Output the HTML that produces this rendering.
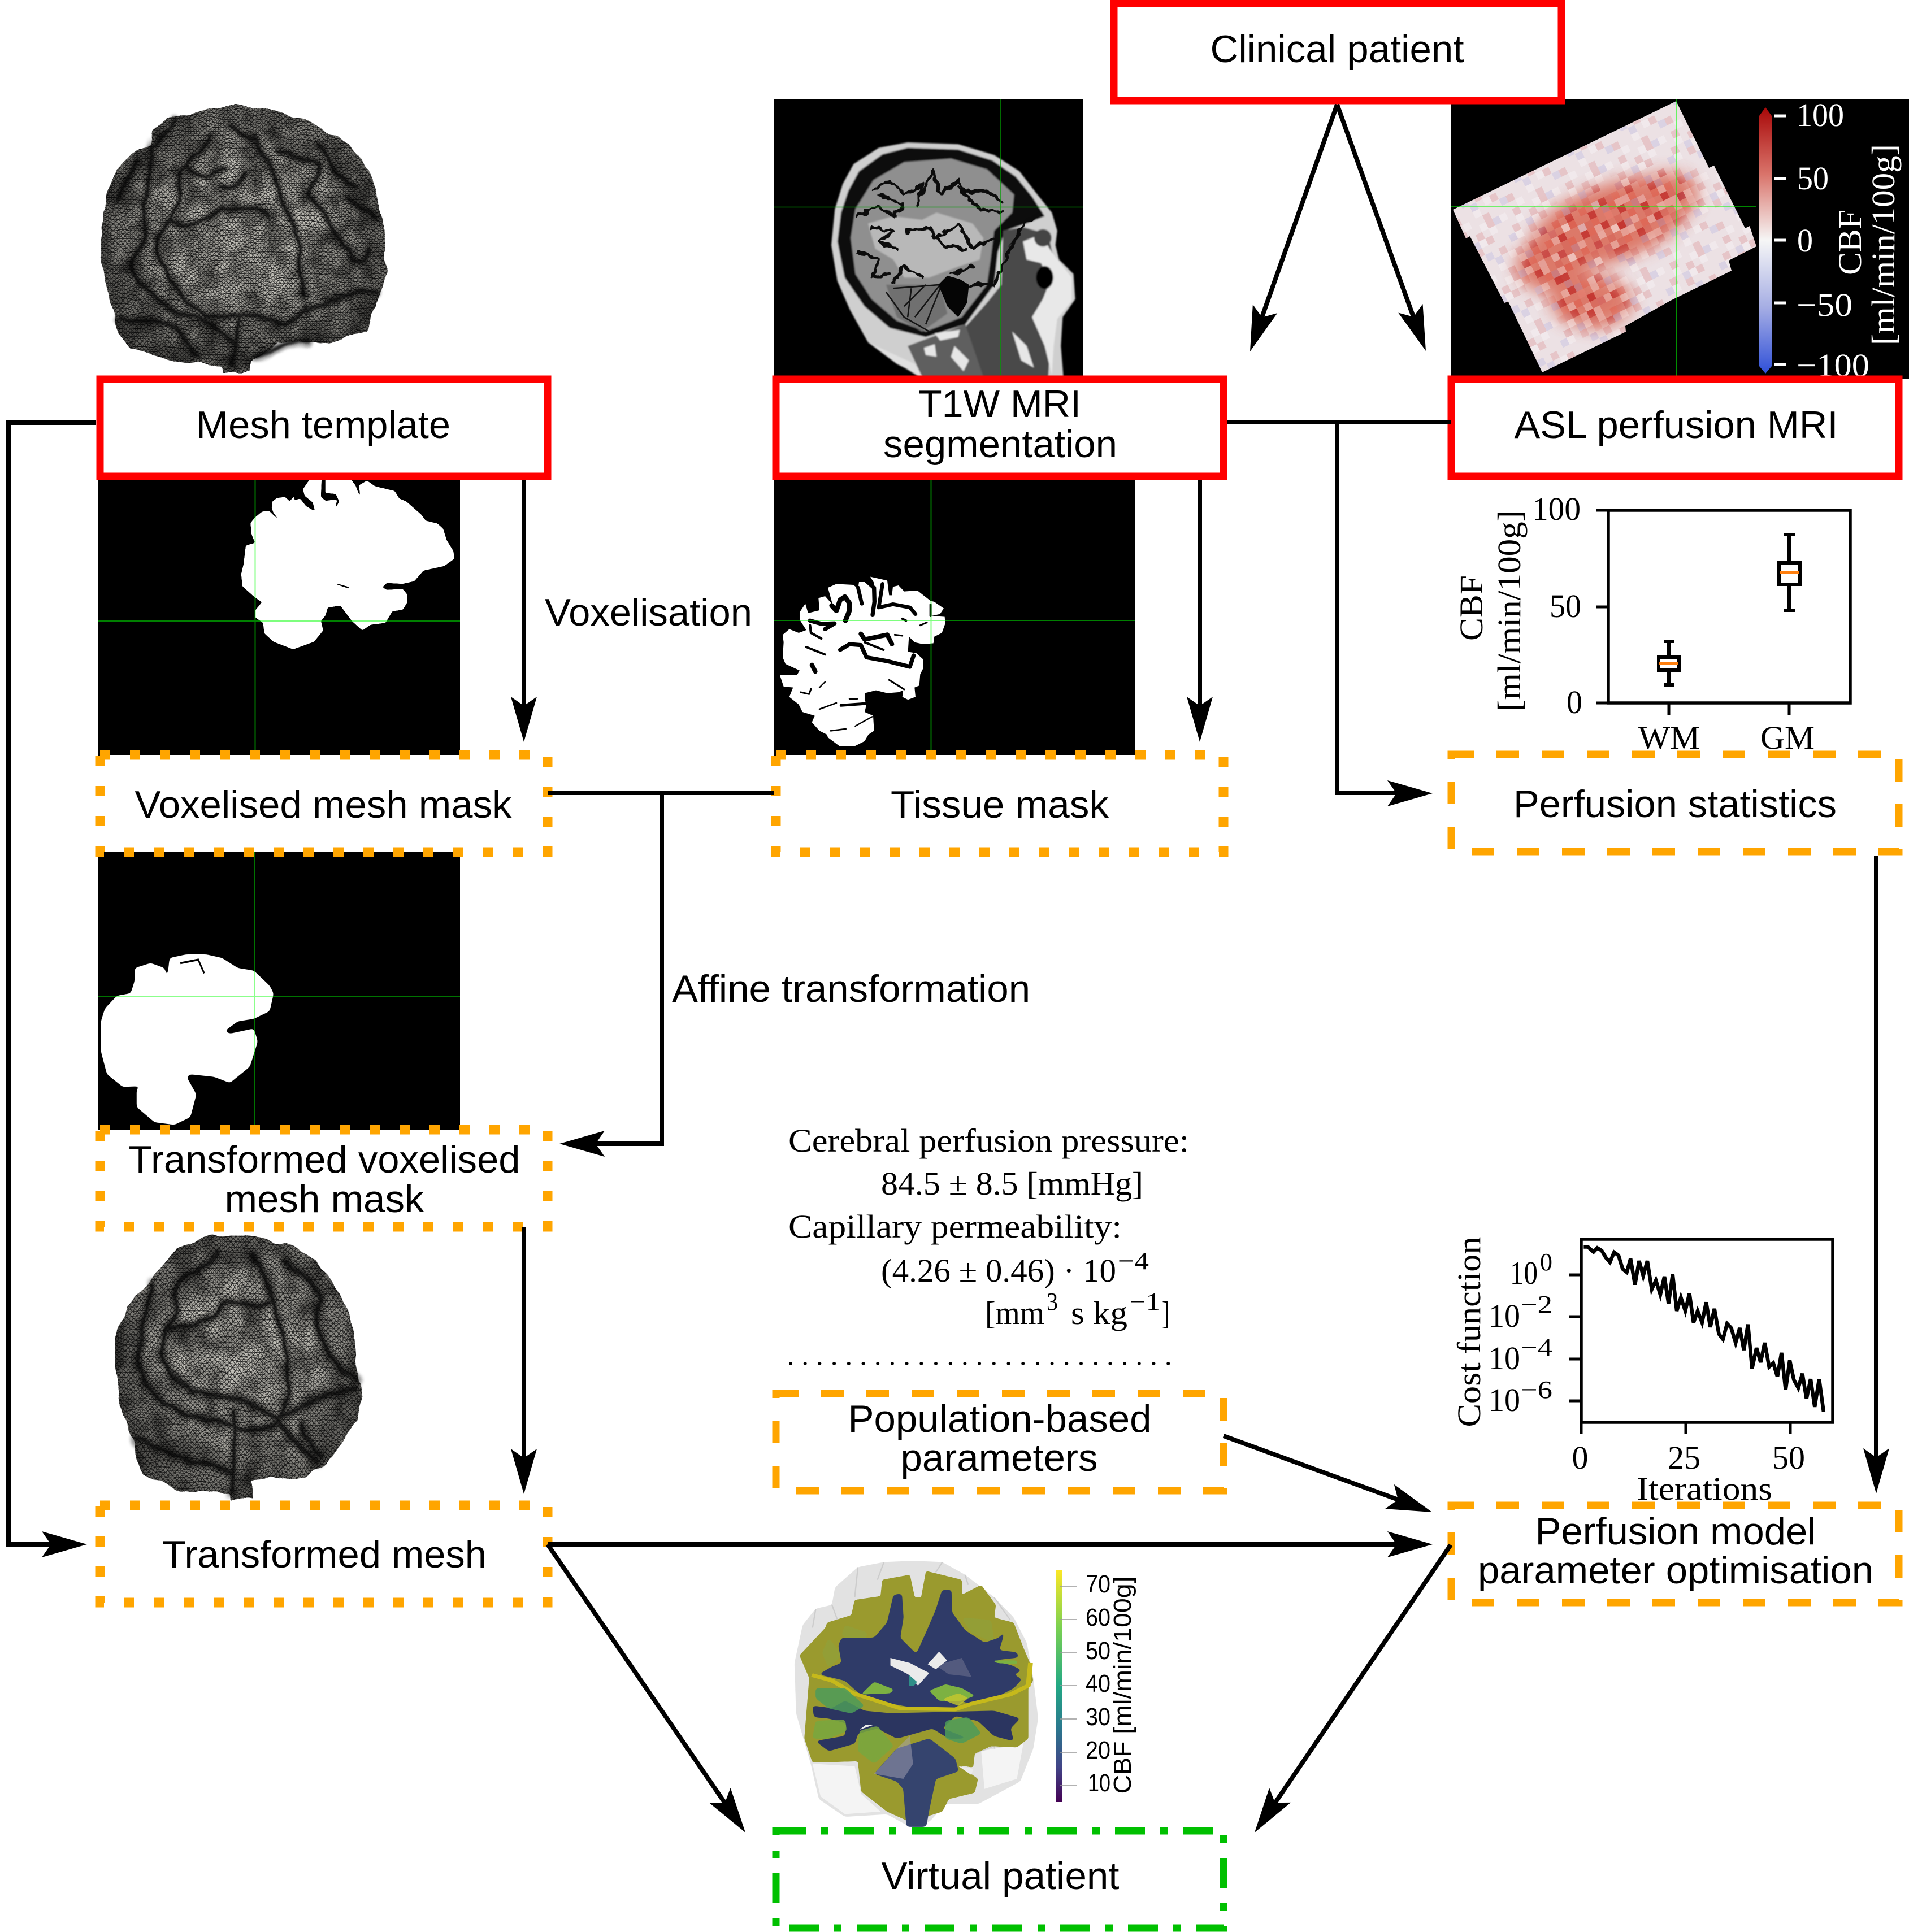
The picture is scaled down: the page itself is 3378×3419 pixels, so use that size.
<!DOCTYPE html>
<html><head><meta charset="utf-8"><style>
html,body{margin:0;padding:0;background:#fff}
svg{display:block}
.s{font-family:"Liberation Sans",sans-serif;font-size:68px;fill:#000;text-anchor:middle}
.c{font-family:"Liberation Serif",serif;font-size:58px;fill:#000}
.m{text-anchor:middle}
.w{fill:#fff}
.k{fill:none;stroke:#000;stroke-width:8}
</style></head><body>
<svg xmlns="http://www.w3.org/2000/svg" width="3378" height="3419" viewBox="0 0 3378 3419">
<defs>
<path id="a" d="M0,0L-80,-23L-64,0L-80,23Z" fill="#000"/>
<pattern id="mesh" patternUnits="userSpaceOnUse" width="12" height="10.4"><rect width="12" height="10.4" fill="#c6c4bc"/><path d="M0 0H12M0 5.2H12M0 0L6 5.2L12 0M0 10.4L6 5.2L12 10.4" stroke="#1c1c1c" stroke-width="1.2" fill="none"/></pattern>
<radialGradient id="edge" cx=".5" cy=".47" r=".56"><stop offset=".45" stop-color="#000" stop-opacity="0"/><stop offset="1" stop-color="#000" stop-opacity=".5"/></radialGradient>
<filter id="b2"><feGaussianBlur stdDeviation="2"/></filter>
<filter id="b4"><feGaussianBlur stdDeviation="4"/></filter>
<filter id="b20"><feGaussianBlur stdDeviation="14"/></filter>
<filter id="brain" x="-6%" y="-6%" width="112%" height="112%" color-interpolation-filters="sRGB">
<feTurbulence type="fractalNoise" baseFrequency=".018" numOctaves="2" seed="4" result="n"/>
<feDisplacementMap in="SourceGraphic" in2="n" scale="20" xChannelSelector="R" yChannelSelector="G" result="d"/>
<feColorMatrix in="n" type="matrix" values="0 0 0 0 0 0 0 0 0 0 0 0 0 0 0 1.2 0 0 0 -.4" result="sh"/>
<feComposite in="sh" in2="d" operator="in" result="s2"/>
<feMerge><feMergeNode in="d"/><feMergeNode in="s2"/></feMerge>
</filter>
<filter id="wig" x="-5%" y="-5%" width="110%" height="110%" color-interpolation-filters="sRGB">
<feTurbulence type="fractalNoise" baseFrequency=".045" numOctaves="2" seed="9" result="n"/>
<feDisplacementMap in="SourceGraphic" in2="n" scale="22" xChannelSelector="R" yChannelSelector="G"/>
</filter>
<filter id="goo" x="-5%" y="-5%" width="110%" height="110%" color-interpolation-filters="sRGB">
<feGaussianBlur stdDeviation="6"/><feColorMatrix type="matrix" values="1 0 0 0 0 0 1 0 0 0 0 0 1 0 0 0 0 0 12 -5"/>
</filter>
<filter id="goo2" x="-5%" y="-5%" width="110%" height="110%" color-interpolation-filters="sRGB">
<feGaussianBlur stdDeviation="4"/><feColorMatrix type="matrix" values="1 0 0 0 0 0 1 0 0 0 0 0 1 0 0 0 0 0 14 -6"/>
</filter>
<pattern id="cells" patternUnits="userSpaceOnUse" width="104" height="104" patternTransform="rotate(-26 2571 371)">
<path fill="#fff" fill-opacity=".28" d="M0 0h13v13h-13zM39 0h13v13h-13zM13 13h13v13h-13zM65 13h13v13h-13zM91 26h13v13h-13zM52 39h13v13h-13zM26 65h13v13h-13zM0 78h13v13h-13zM78 91h13v13h-13z"/>
<path fill="#c21f1f" fill-opacity=".14" d="M13 0h13v13h-13zM65 0h13v13h-13zM91 13h13v13h-13zM0 26h13v13h-13zM52 26h13v13h-13zM78 39h13v13h-13zM13 52h13v13h-13zM39 65h13v13h-13zM65 78h13v13h-13zM13 91h13v13h-13z"/>
<path fill="#7a86e0" fill-opacity=".16" d="M26 0h13v13h-13zM78 26h13v13h-13zM0 65h13v13h-13zM52 78h13v13h-13zM91 52h13v13h-13zM39 39h13v13h-13z"/>
</pattern>
<pattern id="hotc" patternUnits="userSpaceOnUse" width="117" height="117" patternTransform="rotate(-26 2571 371)">
<path fill="#b81414" fill-opacity=".6" d="M0 0h13v13h-13zM52 0h13v13h-13zM91 13h13v13h-13zM26 26h13v13h-13zM65 39h13v13h-13zM104 39h13v13h-13zM13 52h13v13h-13zM78 65h13v13h-13zM39 78h13v13h-13zM0 91h13v13h-13zM104 91h13v13h-13zM65 104h13v13h-13z"/>
<path fill="#e05a48" fill-opacity=".5" d="M26 0h13v13h-13zM78 0h13v13h-13zM13 13h13v13h-13zM52 13h13v13h-13zM0 26h13v13h-13zM91 26h13v13h-13zM39 39h13v13h-13zM78 39h13v13h-13zM52 65h13v13h-13zM13 78h13v13h-13zM91 78h13v13h-13zM39 104h13v13h-13z"/>
<path fill="#fff" fill-opacity=".35" d="M39 13h13v13h-13zM104 0h13v13h-13zM65 26h13v13h-13zM0 52h13v13h-13zM91 52h13v13h-13zM26 65h13v13h-13zM65 91h13v13h-13z"/>
</pattern>
<mask id="hot" maskUnits="userSpaceOnUse" x="2560" y="170" width="560" height="500"><g filter="url(#b20)" fill="#fff">
<ellipse cx="2850" cy="395" rx="140" ry="58" transform="rotate(-20 2850 395)"/>
<ellipse cx="2950" cy="345" rx="48" ry="34"/>
<ellipse cx="2817" cy="534" rx="65" ry="40"/>
<ellipse cx="2745" cy="470" rx="55" ry="42"/>
</g></mask>
<clipPath id="asl"><path d="M2571 371L2966 179L3024 297L3033 293L3088 404L3096 400L3108 436L3059 461L3064 479L2956 532L2876 577L2877 587L2729 659L2669 534L2662 536L2601 418L2594 422Z"/></clipPath>
<linearGradient id="cool" x1="0" y1="0" x2="0" y2="1"><stop offset="0" stop-color="#a80808"/><stop offset=".25" stop-color="#d9736a"/><stop offset=".5" stop-color="#f6f6f6"/><stop offset=".75" stop-color="#a6aee4"/><stop offset="1" stop-color="#3050d8"/></linearGradient>
<linearGradient id="vir" x1="0" y1="0" x2="0" y2="1"><stop offset="0" stop-color="#fde725"/><stop offset=".25" stop-color="#7ad151"/><stop offset=".5" stop-color="#22a884"/><stop offset=".68" stop-color="#2a788e"/><stop offset=".85" stop-color="#414487"/><stop offset="1" stop-color="#440154"/></linearGradient>
<g id="s1" fill="none" stroke-linecap="round">
<path d="M530 330C510 370 470 385 455 420C445 450 470 470 430 520C420 545 400 560 395 600C410 650 440 690 470 730L520 768L640 760L720 785L770 745"/>
<path d="M640 330C660 380 690 400 700 450C720 520 750 560 755 600C745 640 765 680 770 710"/>
<path d="M430 530C470 560 520 540 560 500C590 520 640 480 680 520"/>
<path d="M700 370C740 370 790 390 805 400C800 450 760 450 790 480"/>
<path d="M805 345C830 390 860 440 900 450"/>
<path d="M790 480C820 530 850 570 880 600C890 640 920 650 930 600"/>
<path d="M380 350C390 400 370 430 365 480C350 520 380 560 360 590C330 620 330 660 350 680"/>
<path d="M300 480C320 440 330 420 350 390"/>
<path d="M345 670C400 730 430 750 500 770C550 790 570 800 590 830"/>
<path d="M770 755C830 720 900 700 950 705"/>
<path d="M600 770L590 880M650 860C690 830 740 825 780 825"/>
<path d="M300 770C340 780 380 770 420 780C460 800 480 840 500 860"/>
<path d="M440 290C430 310 400 340 385 350M575 300L640 340M880 480C900 500 930 500 950 530"/>
<path d="M470 400C500 430 530 430 560 410M620 420C600 450 580 460 560 450"/>
</g>
<g id="s2" fill="none" stroke-linecap="round">
<path d="M550 860C520 890 470 900 445 930C430 960 460 975 420 1010C405 1040 400 1060 430 1100L480 1135L600 1150L700 1185"/>
<path d="M640 860C660 900 690 930 695 980C715 1030 730 1070 725 1110C730 1140 720 1170 700 1185"/>
<path d="M420 1010C480 1000 540 1000 560 960C590 940 640 980 680 960"/>
<path d="M720 880C770 900 800 920 810 950C790 990 800 1020 830 1060C860 1090 890 1100 900 1110"/>
<path d="M380 920C385 960 350 990 355 1030C340 1060 350 1100 390 1140C430 1170 500 1190 550 1190C600 1210 680 1220 700 1190"/>
<path d="M700 1185C780 1160 860 1130 895 1125"/>
<path d="M590 1175L585 1330M700 1190C730 1230 780 1260 800 1270M760 1200C770 1230 790 1250 810 1260"/>
<path d="M340 1230C400 1250 470 1270 580 1290"/>
</g>
</defs>

<!-- Brain 1 -->
<g transform="scale(.7015 .7334)"><g filter="url(#brain)">
<path id="bo1" fill="url(#mesh)" d="M255 620L260 510L290 410L330 370L380 345L385 320L420 285L530 265L575 255L650 255L700 270L770 290L880 350L940 430L965 530L972 660L950 740L920 800L830 830L700 825L640 870L630 900L565 900L560 885L440 870L330 840L300 810L270 700Z"/>
<path fill="url(#edge)" d="M255 620L260 510L290 410L330 370L380 345L385 320L420 285L530 265L575 255L650 255L700 270L770 290L880 350L940 430L965 530L972 660L950 740L920 800L830 830L700 825L640 870L630 900L565 900L560 885L440 870L330 840L300 810L270 700Z"/>
<use href="#s1" stroke="#000" stroke-width="24" opacity=".35" filter="url(#b4)"/>
<use href="#s1" stroke="#080808" stroke-width="8" opacity=".8" filter="url(#b2)"/>
</g></g>

<!-- Brain 2 -->
<g transform="translate(0 1450) scale(.7015 .8929)"><g filter="url(#brain)">
<path fill="url(#mesh)" d="M295 1020L320 960L385 905L450 845L540 825L640 825L720 840L800 875L860 940L895 1020L905 1110L915 1140L900 1190L840 1265L770 1300L640 1310L640 1350L585 1350L580 1335L440 1330L360 1295L335 1230L305 1160L295 1100Z"/>
<path fill="url(#edge)" d="M295 1020L320 960L385 905L450 845L540 825L640 825L720 840L800 875L860 940L895 1020L905 1110L915 1140L900 1190L840 1265L770 1300L640 1310L640 1350L585 1350L580 1335L440 1330L360 1295L335 1230L305 1160L295 1100Z"/>
<use href="#s2" stroke="#000" stroke-width="24" opacity=".4" filter="url(#b4)"/>
<use href="#s2" stroke="#080808" stroke-width="8" opacity=".8" filter="url(#b2)"/>
</g></g>

<!-- T1 MRI -->
<rect x="1370" y="175" width="547" height="495" fill="#000"/>
<g transform="translate(1300 0) scale(.6378)">
<g filter="url(#b2)">
<path fill="#cfcfcf" d="M268 680L278 580L300 510L330 455L400 410L480 395L620 400L720 430L790 475L840 540L880 590L895 640L890 680L900 720L940 760L945 830L910 880L905 960L912 1045L510 1045L440 1000L370 950L320 860L285 780Z"/>
<path fill="#0e0e0e" d="M285 670L295 590L315 530L345 475L410 428L480 410L620 415L715 445L780 490L825 545L860 600L810 620L750 640L730 700L720 790L640 900L530 935L430 910L360 850L305 770Z"/>
<path fill="#4a4a4a" d="M745 640L800 630L870 650L885 720L860 770L895 800L880 880L870 1045L650 1045L620 930L700 840L740 790Z"/>
<path fill="#e8e8e8" d="M800 670L850 650L880 700L935 770L935 835L895 885L885 960L880 1040L860 960L825 880L855 830L875 780L850 730L810 720Z"/>
<ellipse cx="860" cy="770" rx="24" ry="32" fill="#050505"/><ellipse cx="855" cy="660" rx="24" ry="24" fill="#444"/>
<path fill="#8f8f8f" d="M322 660L335 580L385 500L470 450L600 440L700 470L775 540L770 590L720 640L710 720L700 790L630 880L530 920L450 890L380 830L335 760Z"/>
<path fill="#b8b8b8" d="M370 620L440 600L520 610L560 590L660 620L690 660L680 720L620 740L540 770L470 770L440 720L390 690Z"/>
<path fill="#6f6f6f" d="M420 790L570 790L590 870L520 920L450 880Z"/>
<path fill="#5e5e5e" d="M480 960L640 900L690 1045L520 1045Z"/>
<path fill="#e6e6e6" d="M555 925L625 915L620 935L570 945ZM525 965L555 955L560 990L530 985ZM610 960L650 1000L635 1030L600 990ZM770 920L810 960L830 1020L795 1000Z"/>
<path fill="#e0e0e0" d="M370 950L500 1010L520 1045L450 1010Z"/>
</g>
<g fill="none" stroke="#0c0c0c" stroke-width="9" stroke-linejoin="round" stroke-linecap="round" filter="url(#wig)">
<path d="M385 530L430 500L470 540L520 510L505 570L550 470L570 540L620 500L640 530L700 530L740 560"/>
<path d="M340 600L400 570L440 600L470 570L400 540"/><path d="M380 630L440 640L400 670L450 690"/>
<path d="M340 700L400 720L380 770L430 760"/><path d="M480 640L540 630L560 660L620 620L660 690L720 660"/>
<path d="M550 650L580 680L640 690"/><path d="M650 790L720 790L740 740L790 640L840 590"/>
<path d="M440 780L470 740L520 770M600 760L660 740"/><path d="M620 520L680 580L740 590"/>
</g>
<g fill="none" stroke="#151515" stroke-width="4">
<path d="M420 810L470 880L540 920M440 800L570 790L500 880M570 800L530 900M490 800L480 880M530 790L470 850"/>
</g>
<path fill="#050505" d="M565 790L590 765L625 775L650 790L645 840L620 880L590 850Z"/>
</g>
<path d="M1370 366.5H1917M1771 175V665" stroke="#00a000" stroke-width="1.6" opacity=".85"/>

<!-- Voxelised mask -->
<rect x="174" y="849" width="640" height="490" fill="#000"/>
<path transform="translate(174 849) scale(.408 .3333)" filter="url(#goo2)" fill="#fff" d="M680 200L710 170L740 165L790 225L795 228L760 175L752 150L755 115L775 97L810 92L830 115L850 85L850 110L875 100L900 140L935 165L940 165L930 120L895 85L888 50L910 10L925 -10L968 -10L965 90L985 112L1030 105L1035 110L1020 175L1045 115L1030 75L985 70L985 -10L1090 -10L1115 30L1140 110L1130 30L1165 5L1200 35L1285 60L1305 100L1335 115L1400 185L1420 218L1470 232L1495 260L1510 320L1540 380L1543 420L1500 458L1410 482L1370 538L1320 552L1250 548L1232 570L1250 585L1320 580L1340 610L1340 650L1320 690L1275 698L1245 760L1180 770L1145 800L1100 750L1050 668L995 678L985 720L965 750L975 800L935 860L845 900L760 860L720 815L715 760L680 730L680 695L710 650L680 625L625 565L620 500L630 450L640 350L680 335L665 290L660 230ZM1030 548L1030 555L1095 582L1085 568Z" fill-rule="evenodd"/>
<path d="M174 1099H814M451.5 849V1335" stroke="#00ff00" stroke-width="2" opacity=".5"/>

<!-- Tissue mask -->
<rect x="1370" y="849" width="639" height="490" fill="#000"/>
<g transform="translate(1370 950) scale(.3333)">
<path fill="#fff" d="M510 212L600 232L610 310L625 310L630 265L660 258L690 290L760 285L830 340L850 345L900 380L880 410L835 420L905 425L908 460L890 510L850 530L845 565L790 570L745 560L715 530L710 610L755 618L790 650L790 700L775 730L770 790L745 800L750 850L710 865L680 850L685 815L660 825L600 830L540 815L480 830L480 865L490 890L480 930L525 950L530 1030L500 1050L480 1085L430 1110L345 1110L285 1065L280 1050L240 1030L200 985L215 950L150 930L130 890L80 850L100 800L50 795L30 735L120 735L135 710L60 675L45 640L50 560L45 520L80 490L130 510L170 495L135 440L135 400L165 355L180 405L240 390L235 325L270 315L310 360L285 270L330 250L420 255L445 275L450 240L480 240L525 280L530 245Z"/>
<g fill="none" stroke="#000" stroke-linejoin="round" stroke-linecap="round">
<path d="M305 365L330 392L350 335L375 318L398 350L398 395L378 445" stroke-width="26"/>
<path d="M445 270L465 355" stroke-width="20"/><path d="M530 270L532 345L522 415" stroke-width="22"/>
<path d="M575 250L555 375L630 358L720 375L750 410" stroke-width="20"/>
<path d="M190 445L250 462L320 460L270 490" stroke-width="22"/><path d="M190 470L195 510L250 540" stroke-width="13"/>
<path d="M170 585L270 625" stroke-width="12"/>
<path d="M350 600L400 570L460 575L490 640L600 660L720 690L740 630" stroke-width="22"/>
<path d="M460 515L480 545L600 520L625 570" stroke-width="24"/><path d="M480 560L580 600" stroke-width="12"/>
<path d="M200 680L218 715" stroke-width="24"/><path d="M610 760L690 810" stroke-width="9"/>
<path d="M140 825L185 835L195 808" stroke-width="9"/><path d="M355 895L490 885" stroke-width="15"/><path d="M240 915L330 882" stroke-width="8"/>
<path d="M400 860H440" stroke-width="9"/><path d="M240 800L270 770" stroke-width="7"/>
<path d="M300 1030L380 1020" stroke-width="8"/><path d="M430 1005L520 955" stroke-width="7"/><path d="M830 360L830 420" stroke-width="12"/>
<path d="M640 520L680 525M775 470L810 455" stroke-width="9"/><path d="M680 435L700 445" stroke-width="12"/>
</g></g>
<path d="M1370 1098H2009M1647.5 849V1335" stroke="#00ff00" stroke-width="2" opacity=".5"/>

<!-- Transformed mask -->
<rect x="174" y="1508" width="640" height="491" fill="#000"/>
<g transform="translate(0 1450) scale(.7015 .8929)">
<path fill="#fff" filter="url(#goo2)" d="M340 295L380 285L415 295L422 318L428 275L470 268L520 268L560 275L600 295L640 300L680 330L690 345L680 380L640 395L600 400L565 420L580 425L640 415L650 440L630 490L580 522L540 510L480 505L470 510L495 545L480 590L440 605L390 600L345 570L345 535L360 528L310 530L270 505L255 460L255 400L265 375L295 350L330 345L340 320Z"/>
<path d="M455 285L500 278L515 305" stroke="#000" stroke-width="4" fill="none"/></g>
<path d="M174 1763H814M451 1508V1999" stroke="#00ff00" stroke-width="2" opacity=".45"/>

<!-- ASL map -->
<rect x="2567" y="175" width="811" height="495" fill="#000"/>
<g clip-path="url(#asl)">
<rect x="2560" y="170" width="560" height="500" fill="#ece1e4"/>
<g filter="url(#b20)" fill="#d9604c" opacity=".8">
<ellipse cx="2850" cy="395" rx="150" ry="68" transform="rotate(-20 2850 395)"/>
<ellipse cx="2950" cy="345" rx="55" ry="40"/>
<ellipse cx="2817" cy="534" rx="72" ry="46"/>
<ellipse cx="2745" cy="470" rx="62" ry="48"/>
</g>
<rect x="2560" y="170" width="560" height="500" fill="url(#cells)"/>
<rect x="2560" y="170" width="560" height="500" fill="url(#hotc)" mask="url(#hot)"/>
</g>
<path d="M2567 366H3108M2966 175V666" stroke="#00ff00" stroke-width="1.6" opacity=".7"/>
<path d="M3124 190L3135 205V648L3124 661L3113 648V205Z" fill="url(#cool)"/>
<path d="M3139 205H3160M3139 316H3160M3139 425H3160M3139 536H3160M3139 645H3160" stroke="#fff" stroke-width="5"/>
<g class="c w">
<text class="c w" x="3179" y="223" textLength="84" lengthAdjust="spacingAndGlyphs">100</text>
<text class="c w" x="3180" y="335" textLength="56" lengthAdjust="spacingAndGlyphs">50</text>
<text class="c w" x="3180" y="445" textLength="28" lengthAdjust="spacingAndGlyphs">0</text>
<text class="c w" x="3179" y="559" textLength="99" lengthAdjust="spacingAndGlyphs">−50</text>
<text class="c w" x="3179" y="666" textLength="129" lengthAdjust="spacingAndGlyphs">−100</text>
<text class="c w m" transform="translate(3293 429) rotate(-90)" textLength="116" lengthAdjust="spacingAndGlyphs">CBF</text>
<text class="c w m" transform="translate(3352 433) rotate(-90)" textLength="356" lengthAdjust="spacingAndGlyphs">[ml/min/100g]</text>
</g>

<!-- Box plot -->
<rect x="2846" y="903" width="428" height="341" fill="none" stroke="#000" stroke-width="5.5"/>
<path d="M2825 903H2846M2825 1074H2846M2825 1244H2846M2953 1244V1266M3166 1244V1266" stroke="#000" stroke-width="5"/>
<path d="M2953 1135V1212M2944 1135H2962M2944 1212H2962M3166 946V1080M3157 946H3176M3157 1080H3176" stroke="#000" stroke-width="6" fill="none"/>
<rect x="2935" y="1163" width="36" height="23" fill="#fff" stroke="#000" stroke-width="6"/>
<rect x="3148" y="996" width="37" height="38" fill="#fff" stroke="#000" stroke-width="6"/>
<path d="M2936 1174H2970M3149 1013H3184" stroke="#ff7f0e" stroke-width="6"/>
<text class="c" x="2711" y="920" textLength="86" lengthAdjust="spacingAndGlyphs">100</text>
<text class="c" x="2742" y="1092" textLength="56" lengthAdjust="spacingAndGlyphs">50</text>
<text class="c" x="2772" y="1262" textLength="28" lengthAdjust="spacingAndGlyphs">0</text>
<text class="c" x="2899" y="1325" textLength="109" lengthAdjust="spacingAndGlyphs">WM</text>
<text class="c" x="3115" y="1325" textLength="96" lengthAdjust="spacingAndGlyphs">GM</text>
<text class="c m" transform="translate(2623 1076) rotate(-90)" textLength="116" lengthAdjust="spacingAndGlyphs">CBF</text>
<text class="c m" transform="translate(2690 1081) rotate(-90)" textLength="356" lengthAdjust="spacingAndGlyphs">[ml/min/100g]</text>

<!-- Population text -->
<text class="c" x="1395" y="2038" textLength="709" lengthAdjust="spacingAndGlyphs">Cerebral perfusion pressure:</text>
<text class="c" x="1559" y="2114" textLength="464" lengthAdjust="spacingAndGlyphs">84.5 ± 8.5 [mmHg]</text>
<text class="c" x="1395" y="2190" textLength="590" lengthAdjust="spacingAndGlyphs">Capillary permeability:</text>
<text class="c" x="1559" y="2268" textLength="416" lengthAdjust="spacingAndGlyphs">(4.26 ± 0.46) · 10</text>
<text class="c" x="1978" y="2246" style="font-size:44px" textLength="55" lengthAdjust="spacingAndGlyphs">−4</text>
<text class="c" x="1743" y="2343" textLength="105" lengthAdjust="spacingAndGlyphs">[mm</text>
<text class="c" x="1852" y="2318" style="font-size:44px" textLength="20" lengthAdjust="spacingAndGlyphs">3</text>
<text class="c" x="1895" y="2343" textLength="100" lengthAdjust="spacingAndGlyphs">s kg</text>
<text class="c" x="1999" y="2318" style="font-size:44px" textLength="54" lengthAdjust="spacingAndGlyphs">−1</text>
<text class="c" x="2056" y="2343" textLength="14" lengthAdjust="spacingAndGlyphs">]</text>
<path d="M1399 2413H2070" stroke="#000" stroke-width="6" stroke-linecap="round" stroke-dasharray="0 25.7" fill="none"/>

<!-- Cost plot -->
<rect x="2798" y="2193" width="445" height="324" fill="none" stroke="#000" stroke-width="5.5"/>
<path d="M2776 2256H2798M2776 2330H2798M2776 2405H2798M2776 2479H2798M2798 2517V2538M2983 2517V2538M3168 2517V2538" stroke="#000" stroke-width="5"/>
<polyline transform="translate(2500 2150) scale(.56 .4785)" vector-effect="non-scaling-stroke" fill="none" stroke="#000" stroke-width="6.5" points="540,118 553,118 571,137 583,122 597,132 610,158 623,175 636,138 650,150 663,200 676,212 688,162 702,258 715,170 728,225 741,170 755,275 768,242 782,295 795,228 808,328 821,220 834,355 847,305 861,355 874,290 887,398 900,355 914,398 927,323 940,415 953,347 967,440 980,460 993,402 1006,418 1020,473 1033,418 1046,500 1059,405 1072,568 1086,492 1099,545 1112,473 1126,562 1139,548 1152,598 1165,510 1178,647 1191,538 1204,610 1218,640 1231,587 1244,680 1257,607 1270,710 1284,607 1298,728"/>
<text class="c" x="2672" y="2272" textLength="49" lengthAdjust="spacingAndGlyphs">10</text><text class="c" x="2725" y="2248" style="font-size:44px" textLength="22" lengthAdjust="spacingAndGlyphs">0</text>
<text class="c" x="2634" y="2348" textLength="56" lengthAdjust="spacingAndGlyphs">10</text><text class="c" x="2691" y="2323" style="font-size:44px" textLength="56" lengthAdjust="spacingAndGlyphs">−2</text>
<text class="c" x="2634" y="2423" textLength="56" lengthAdjust="spacingAndGlyphs">10</text><text class="c" x="2691" y="2399" style="font-size:44px" textLength="56" lengthAdjust="spacingAndGlyphs">−4</text>
<text class="c" x="2634" y="2497" textLength="56" lengthAdjust="spacingAndGlyphs">10</text><text class="c" x="2691" y="2474" style="font-size:44px" textLength="56" lengthAdjust="spacingAndGlyphs">−6</text>
<text class="c m" x="2796" y="2599">0</text><text class="c m" x="2980" y="2599">25</text><text class="c m" x="3165" y="2599">50</text>
<text class="c m" x="3016" y="2654" textLength="240" lengthAdjust="spacingAndGlyphs">Iterations</text>
<text class="c m" transform="translate(2619 2357) rotate(-90)" textLength="337" lengthAdjust="spacingAndGlyphs">Cost function</text>

<!-- Virtual patient brain -->
<g transform="translate(1300 2720) scale(.574 .4458)">
<path fill="#e2e2e2" filter="url(#goo)" d="M185 500L210 350L250 285L300 270L310 200L380 120L460 100L550 95L640 100L710 150L800 240L860 320L900 420L920 560L935 720L920 840L880 970L750 1060L650 1060L600 1130L540 1150L470 1100L340 1110L260 1040L235 900L190 700Z"/>
<g fill="none" stroke="#cccccc" stroke-width="4"><path d="M300 270L320 340M380 120L370 240M460 100L440 170M640 100L620 140M710 150L720 190M250 285L240 360M800 240L850 330M740 860L800 830L820 960M340 1000L380 1080"/></g>
<path fill="#f4f4f4" d="M240 900L370 910L390 1020L450 1090L340 1100L265 1030ZM760 850L890 820L870 960L770 1000Z"/>
<path fill="#9a9a2e" filter="url(#goo2)" d="M200 470L280 360L285 340L360 310L370 250L450 235L455 170L540 150L555 240L575 240L590 135L700 170L700 230L760 190L805 270L800 320L860 340L890 440L910 500L920 570L905 600L905 800L870 835L790 830L740 860L735 915L690 905L750 960L740 1015L660 1040L640 1090L590 1110L590 1140L530 1125L470 1090L390 1010L380 890L240 895L215 800L230 560Z"/>
<path fill="#8fa23c" opacity=".6" filter="url(#goo)" d="M340 350L410 380L390 440L330 390ZM700 320L790 330L800 420L730 380ZM290 400L330 470L290 520L270 460Z"/>
<path fill="#2f3b68" filter="url(#goo)" d="M330 400L430 400L470 340L490 230L515 225L520 320L510 400L560 465L590 380L620 290L640 210L668 210L670 300L710 370L770 420L815 400L835 365L815 450L870 458L875 478L790 490L855 510L885 530L860 545L885 565L860 600L800 640L730 665L700 650L680 680L560 680L400 640L340 570L260 545L300 515L330 500L320 430Z"/>
<path fill="#2b3560" filter="url(#goo)" d="M240 670L300 680L340 650L400 690L480 700L800 690L880 720L850 760L860 810L800 790L750 730L680 710L640 760L720 800L660 800L610 760L500 800L440 760L380 780L370 820L290 850L250 810L340 790L345 740L290 720L245 715Z"/>
<path fill="#35446e" filter="url(#goo)" d="M430 940L500 840L600 800L680 880L690 930L620 960L600 1080L590 1150L530 1150L520 1000L500 970Z"/>
<path fill="#a8a4b4" opacity=".5" d="M430 940L500 840L540 790L550 900L520 960Z"/>
<path fill="#8a8aa0" opacity=".4" d="M620 510L700 480L730 555L660 545Z"/>
<path fill="none" stroke="#c6b91b" stroke-width="15" stroke-linejoin="round" d="M238 548L300 570L365 620L510 680L680 684L730 662L850 625L905 590L912 500"/>
<path fill="#7cb142" filter="url(#goo2)" d="M390 625L430 575L490 605L480 620ZM600 610L650 585L700 600L740 630L700 650L630 650ZM790 490L870 490L870 505L810 500Z"/>
<path fill="#c6c82e" opacity=".8" filter="url(#goo2)" d="M640 645L690 620L720 640L690 670Z"/>
<path fill="#4d9c5a" opacity=".85" filter="url(#goo)" d="M250 600L340 600L400 670L360 700L290 680L250 640ZM650 730L720 715L760 780L700 820L650 800Z"/>
<path fill="#79a83f" opacity=".85" filter="url(#goo)" d="M385 770L440 750L490 830L430 900L380 850ZM250 730L340 725L345 770L290 800L240 800Z"/>
<path fill="#ebebeb" d="M480 480L540 500L600 540L565 590L535 545L480 510ZM630 455L655 490L620 525L595 505ZM385 765L405 745L430 745ZM722 715L745 745ZM690 910L735 920L730 945Z"/>
<path fill="#2f8e88" d="M538 548L562 575L552 592L538 592Z"/>
</g>
<rect x="1868" y="2778" width="12" height="411" fill="url(#vir)"/>
<path d="M1876 2807H1905M1876 2866H1905M1876 2925H1905M1876 2983H1905M1876 3042H1905M1876 3101H1905M1876 3159H1905" stroke="#999" stroke-width="1.5"/>
<g style="font-family:'Liberation Sans',sans-serif;font-size:44px">
<text x="1921" y="2822" textLength="44" lengthAdjust="spacingAndGlyphs" dy="-4">70</text>
<text x="1921" y="2881" textLength="44" lengthAdjust="spacingAndGlyphs" dy="-4">60</text>
<text x="1921" y="2940" textLength="44" lengthAdjust="spacingAndGlyphs" dy="-4">50</text>
<text x="1921" y="2998" textLength="44" lengthAdjust="spacingAndGlyphs" dy="-4">40</text>
<text x="1921" y="3057" textLength="44" lengthAdjust="spacingAndGlyphs" dy="-4">30</text>
<text x="1921" y="3116" textLength="44" lengthAdjust="spacingAndGlyphs" dy="-4">20</text>
<text x="1925" y="3174" textLength="40" lengthAdjust="spacingAndGlyphs" dy="-4">10</text>
<text text-anchor="middle" transform="translate(2001 2982) rotate(-90)" textLength="385" lengthAdjust="spacingAndGlyphs">CBF [ml/min/100g]</text>
</g>

<!-- Boxes -->
<g fill="#fff" stroke="#ff0000" stroke-width="13">
<rect x="1971" y="6" width="792" height="172"/>
<rect x="177" y="671" width="792" height="172"/>
<rect x="1373" y="671" width="792" height="172"/>
<rect x="2568" y="671" width="792" height="172"/>
</g>
<g fill="#fff" stroke="#ffa500" stroke-width="17" stroke-dasharray="18 35">
<rect x="177" y="1336" width="792" height="172"/>
<rect x="1373" y="1336" width="792" height="172"/>
<rect x="177" y="1999" width="792" height="172"/>
<rect x="177" y="2664" width="792" height="172"/>
</g>
<g fill="#fff" stroke="#ffa500" stroke-width="13" stroke-dasharray="40 40">
<rect x="2568" y="1335" width="792" height="172"/>
<rect x="1373" y="2466" width="792" height="172"/>
<rect x="2568" y="2664" width="792" height="172"/>
</g>
<rect x="1373" y="3240" width="792" height="172" fill="#fff" stroke="#00c000" stroke-width="13" stroke-dasharray="53 27 13 27"/>

<!-- Connectors -->
<path class="k" d="M170 748H15V2733H120"/>
<path class="k" d="M927 849V1280"/>
<path class="k" d="M2123 849V1280"/>
<path class="k" d="M969 1403H1370M1171 1403V2024H1030"/>
<path class="k" d="M927 2171V2610"/>
<path class="k" d="M2172 747H2567M2366 747V1403H2500"/>
<path class="k" d="M3320 1514V2610"/>
<path class="k" d="M969 2733H2500"/>
<path class="k" d="M2366 185L2225 584M2366 185L2509 583"/>
<path class="k" d="M2165 2541L2496 2662"/>
<path class="k" d="M969 2733L1296 3210"/>
<path class="k" d="M2567 2734L2243 3210"/>
<use href="#a" transform="translate(154 2733)"/>
<use href="#a" transform="translate(927 1313) rotate(90)"/>
<use href="#a" transform="translate(2123 1313) rotate(90)"/>
<use href="#a" transform="translate(990 2024) rotate(180)"/>
<use href="#a" transform="translate(927 2644) rotate(90)"/>
<use href="#a" transform="translate(2535 1404)"/>
<use href="#a" transform="translate(3320 2643) rotate(90)"/>
<use href="#a" transform="translate(2535 2733)"/>
<use href="#a" transform="translate(2212 622) rotate(109.4)"/>
<use href="#a" transform="translate(2523 621) rotate(70.2)"/>
<use href="#a" transform="translate(2534 2676) rotate(20.1)"/>
<use href="#a" transform="translate(1319 3243) rotate(55.5)"/>
<use href="#a" transform="translate(2220 3243) rotate(124.3)"/>

<!-- Labels -->
<text class="s" x="2366" y="110" textLength="449" lengthAdjust="spacingAndGlyphs">Clinical patient</text>
<text class="s" x="572" y="775" textLength="450" lengthAdjust="spacingAndGlyphs">Mesh template</text>
<text class="s" x="1769" y="738" textLength="288" lengthAdjust="spacingAndGlyphs">T1W MRI</text>
<text class="s" x="1770" y="809" textLength="414" lengthAdjust="spacingAndGlyphs">segmentation</text>
<text class="s" x="2966" y="775" textLength="573" lengthAdjust="spacingAndGlyphs">ASL perfusion MRI</text>
<text class="s" x="572" y="1447" textLength="667" lengthAdjust="spacingAndGlyphs">Voxelised mesh mask</text>
<text class="s" x="1769" y="1447" textLength="386" lengthAdjust="spacingAndGlyphs">Tissue mask</text>
<text class="s" x="2964" y="1446" textLength="572" lengthAdjust="spacingAndGlyphs">Perfusion statistics</text>
<text class="s" x="574" y="2075" textLength="693" lengthAdjust="spacingAndGlyphs">Transformed voxelised</text>
<text class="s" x="574" y="2145" textLength="353" lengthAdjust="spacingAndGlyphs">mesh mask</text>
<text class="s" x="574" y="2774" textLength="574" lengthAdjust="spacingAndGlyphs">Transformed mesh</text>
<text class="s" x="1769" y="2534" textLength="537" lengthAdjust="spacingAndGlyphs">Population-based</text>
<text class="s" x="1768" y="2603" textLength="349" lengthAdjust="spacingAndGlyphs">parameters</text>
<text class="s" x="2965" y="2733" textLength="497" lengthAdjust="spacingAndGlyphs">Perfusion model</text>
<text class="s" x="2965" y="2802" textLength="700" lengthAdjust="spacingAndGlyphs">parameter optimisation</text>
<text class="s" x="1770" y="3343" textLength="421" lengthAdjust="spacingAndGlyphs">Virtual patient</text>
<text class="s" style="text-anchor:start" x="964" y="1107" textLength="367" lengthAdjust="spacingAndGlyphs">Voxelisation</text>
<text class="s" style="text-anchor:start" x="1189" y="1773" textLength="634" lengthAdjust="spacingAndGlyphs">Affine transformation</text>
</svg>
</body></html>
